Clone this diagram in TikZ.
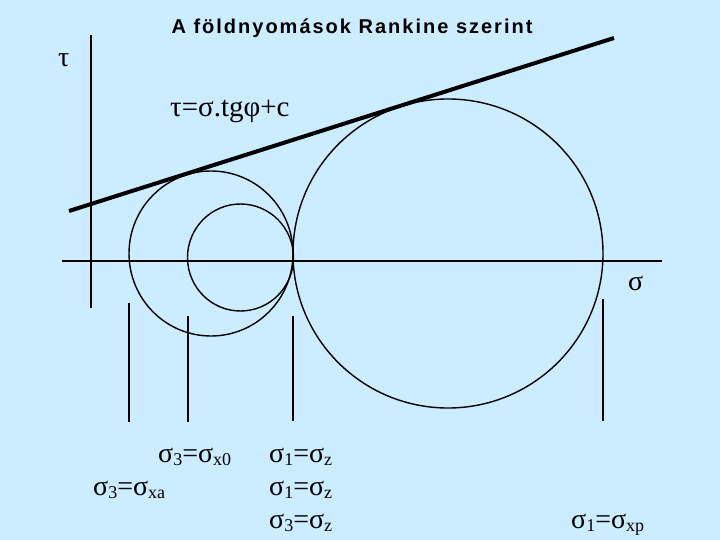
\documentclass[tikz,border=0pt]{standalone}
\usepackage{fontspec}
\setmainfont{Liberation Serif}
\newfontfamily\titlefont[LetterSpace=10]{Liberation Sans}
\definecolor{bgblue}{RGB}{204,236,255}
\newcommand{\sig}[2]{σ\raisebox{-3pt}{\fontsize{18}{18}\selectfont #1}}
\tikzset{
  thin line/.style={line width=1.4pt, black},
  envelope/.style={line width=4pt, black},
  lbl/.style={anchor=base west, inner sep=0pt, font=\fontsize{28}{28}\selectfont},
}
\begin{document}
\begin{tikzpicture}[x=1pt,y=-1pt]
\fill[bgblue] (0,0) rectangle (720,540);
\useasboundingbox (0,0) rectangle (720,540);
% title
\node[font=\titlefont\bfseries\fontsize{20}{20}\selectfont, anchor=base, inner sep=0pt] (title) at (352,34) {A földnyomások Rankine szerint};
% axes
\coordinate (ytop) at (91,35);
\coordinate (ybot) at (91,308);
\coordinate (xl) at (62,261);
\coordinate (xr) at (662,261);
\draw[thin line] (ytop) -- (ybot);
\draw[thin line] (xl) -- (xr);
\node[lbl] (tau) at (58,67) {τ};
\node[lbl] (sigma) at (628,290) {σ};
% envelope
\coordinate (e1) at (69,211);
\coordinate (e2) at (614,38);
\draw[envelope] (e1) -- (e2);
\node[lbl, font=\fontsize{29}{29}\selectfont] (formula) at (170,117) {τ=σ.tgφ+c};
% circles
\coordinate (c1) at (240.5,257.5);
\coordinate (c2) at (211,253.5);
\coordinate (c3) at (448,253.5);
\draw[thin line] (c1) circle[x radius=53, y radius=53.5];
\draw[thin line] (c2) circle[x radius=82, y radius=82.5];
\draw[thin line] (c3) circle[x radius=155, y radius=154.5];
% ticks
\coordinate (t1a) at (129,303); \coordinate (t1b) at (129,422);
\coordinate (t2a) at (188,316); \coordinate (t2b) at (188,422);
\coordinate (t3a) at (293,316); \coordinate (t3b) at (293,421);
\coordinate (t4a) at (603,299); \coordinate (t4b) at (603,421);
\draw[thin line] (t1a) -- (t1b);
\draw[thin line] (t2a) -- (t2b);
\draw[thin line] (t3a) -- (t3b);
\draw[thin line] (t4a) -- (t4b);
% labels
\node[lbl] (l1) at (158,462) {\sig{3}{}=\sig{x0}{}};
\node[lbl] (l2) at (269,462) {\sig{1}{}=\sig{z}{}};
\node[lbl] (l3) at (93,495) {\sig{3}{}=\sig{xa}{}};
\node[lbl] (l4) at (269,495) {\sig{1}{}=\sig{z}{}};
\node[lbl] (l5) at (269,528) {\sig{3}{}=\sig{z}{}};
\node[lbl] (l6) at (571,528) {\sig{1}{}=\sig{xp}{}};
\end{tikzpicture}
\end{document}
